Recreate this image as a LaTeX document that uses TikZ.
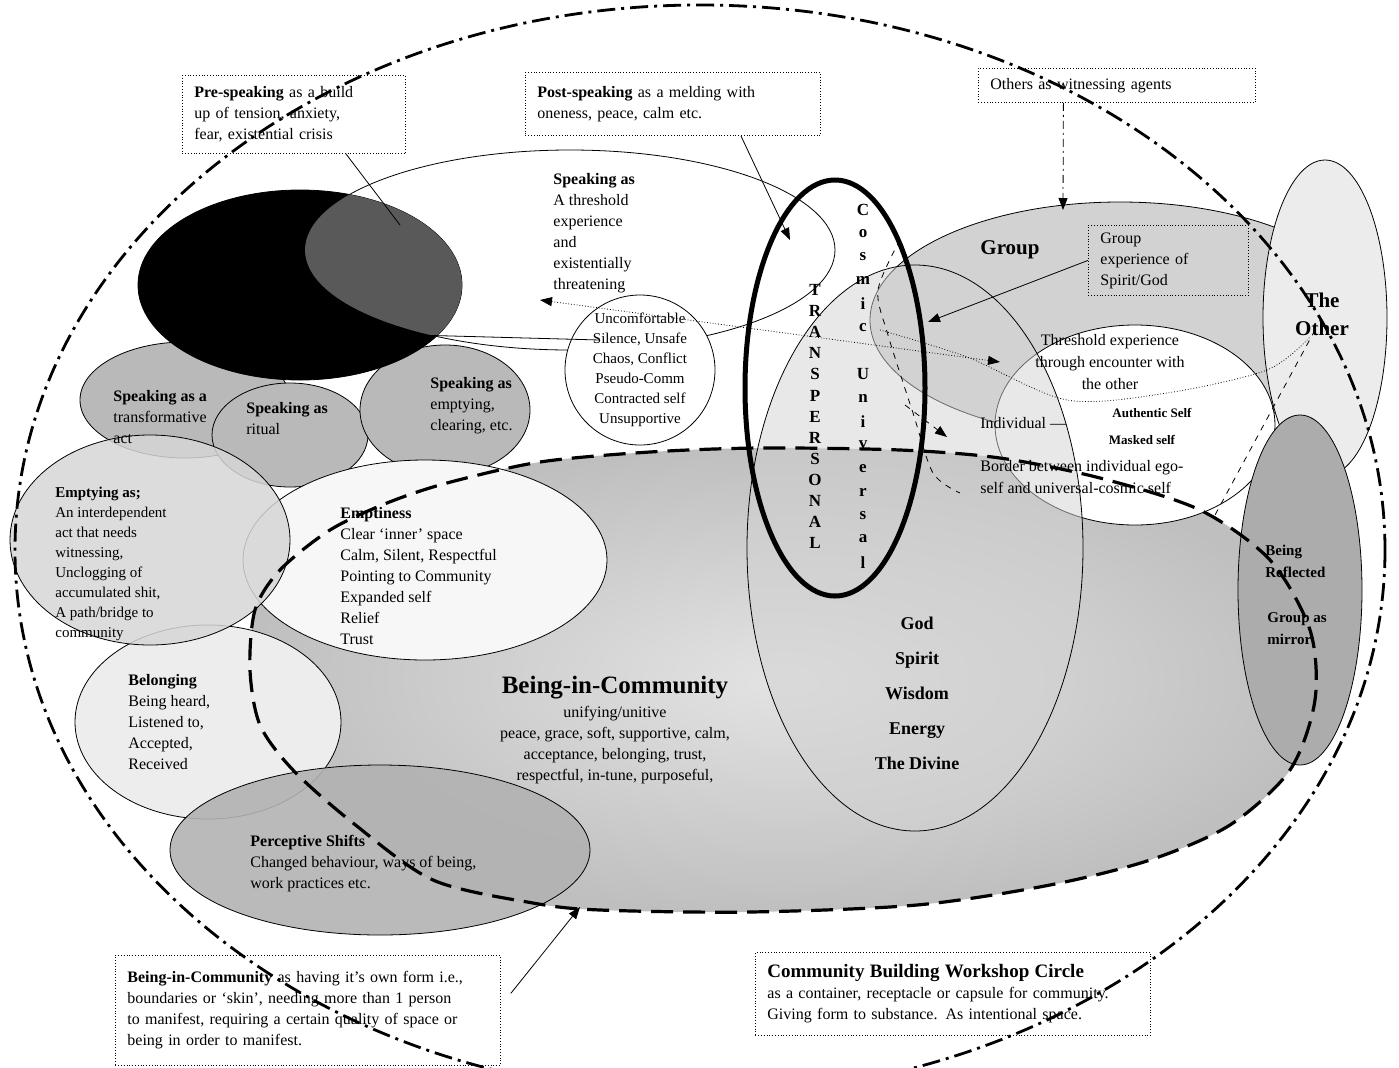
\documentclass[tikz,border=0pt]{standalone}
\usepackage{fontspec}
\setmainfont{Liberation Serif}
\usetikzlibrary{arrows.meta,positioning}

\tikzset{
  txt/.style={font=\fontsize{8}{10.5}\selectfont, align=left, inner sep=0pt, anchor=north west},
  ctxt/.style={font=\fontsize{8}{10.5}\selectfont, align=center, inner sep=0pt},
  letter/.style={font=\fontsize{8.5}{10}\selectfont\bfseries, inner sep=0pt},
  notebox/.style={draw, densely dotted, fill=white, anchor=north west, align=left,
    font=\fontsize{8}{10.5}\selectfont, inner xsep=6pt, inner ysep=3pt},
  dashdot/.style={line width=1.4pt, dash pattern=on 9pt off 3pt on 1.5pt off 3pt},
  skin/.style={line width=1.6pt, dash pattern=on 11pt off 5pt},
  pointer/.style={-{Triangle[length=6pt,width=4.5pt]}},
}

\begin{document}
\begin{tikzpicture}[x=0.5pt,y=-0.5pt]
\useasboundingbox (0,0) rectangle (1399,1067);

%%%%% community area %%%%%
\shade[inner color=gray!22, outer color=gray!50] plot[smooth cycle] coordinates {
  (447,483) (540,462) (650,452) (760,448) (900,450) (1000,458) (1100,478)
  (1200,510) (1270,560) (1310,630) (1315,700) (1290,770) (1230,825) (1150,860)
  (1050,885) (917,905) (750,912) (600,910) (533,903) (433,880) (353,823)
  (293,770) (260,725) (250,670) (255,610) (280,570) (330,530) (387,503)};

%%%%% right side %%%%%
\filldraw[fill=gray!35] (1120,320) ellipse [x radius=250, y radius=118];
\filldraw[fill=white] (1135,425) ellipse [x radius=140, y radius=100];
\filldraw[fill=gray!15] (1325,318) ellipse [x radius=62, y radius=158];
\filldraw[fill=gray!65] (1300,590) ellipse [x radius=62, y radius=175];
\filldraw[fill=gray!35, fill opacity=0.5] (915,548) ellipse [x radius=168, y radius=283];

%%%%% left side %%%%%
\filldraw[fill=white] (570,250) ellipse [x radius=265, y radius=100];
\filldraw[fill=gray!55] (185,400) ellipse [x radius=105, y radius=58];
\filldraw[fill=gray!55] (290,435) ellipse [x radius=78, y radius=52];
\filldraw[fill=gray!55] (445,410) ellipse [x radius=85, y radius=65];
\filldraw[fill=black] (300,285) ellipse [x radius=162, y radius=95];
\begin{scope}
  \clip (570,250) ellipse [x radius=265, y radius=100];
  \fill[gray!70!black] (300,285) ellipse [x radius=162, y radius=95];
\end{scope}
\node[circle, draw, fill=white, minimum size=75pt, inner sep=0pt] (unc) at (640,370) {};

\filldraw[fill=gray!6] (425,560) ellipse [x radius=182, y radius=100];
\filldraw[fill=gray!14] (208,722) ellipse [x radius=133, y radius=97];
\filldraw[fill=gray!32, fill opacity=0.85] (150,540) ellipse [x radius=140, y radius=105];
\filldraw[fill=gray!60, fill opacity=0.9] (380,850) ellipse [x radius=210, y radius=85];

%%%%% skin of the community %%%%%
\draw[skin] plot[smooth cycle] coordinates {
  (447,483) (540,462) (650,452) (760,448) (900,450) (1000,458) (1100,478)
  (1200,510) (1270,560) (1310,630) (1315,700) (1290,770) (1230,825) (1150,860)
  (1050,885) (917,905) (750,912) (600,910) (533,903) (433,880) (353,823)
  (293,770) (260,725) (250,670) (255,610) (280,570) (330,530) (387,503)};

\draw[line width=2.5pt] (835,388) ellipse [x radius=90, y radius=208];
\draw[densely dotted] plot[smooth] coordinates {(880,330) (967,357) (1067,400) (1167,393) (1267,370) (1310,337)};
\draw[dashed] plot[smooth] coordinates {(900,240) (878,290) (888,335) (913,413) (933,473) (960,493)};

%%%%% boxes %%%%%
\node[notebox, text width=99.5pt, minimum height=39pt] (pre) at (182,75)
  {\textbf{Pre-speaking} as a build\\up of tension, anxiety,\\fear, existential crisis};
\node[notebox, text width=135.5pt, minimum height=31.5pt] (post) at (525,72)
  {\textbf{Post-speaking} as a melding with\\oneness, peace, calm etc.};
\node[notebox, text width=126.5pt, minimum height=17pt] (others) at (978,68)
  {Others as witnessing agents};
\node[notebox, fill=none, text width=68pt, minimum height=35pt] (grpexp) at (1088,225)
  {Group\\experience of\\Spirit/God};
\node[notebox, text width=180.5pt, minimum height=55pt] (bicbox) at (115,955)
  {\textbf{Being-in-Community} as having it's own form i.e.,\\boundaries or `skin', needing more than 1 person\\to manifest, requiring a certain quality of space or\\being in order to manifest.};
\node[notebox, text width=185.5pt, minimum height=41.5pt] (cbw) at (755,952)
  {{\fontsize{9.5}{11}\selectfont\bfseries Community Building Workshop Circle}\\as a container, receptacle or capsule for community.\\Giving form to substance. As intentional space.};

%%%%% outer circle %%%%%
\draw[dashdot] (700,550) ellipse [x radius=685, y radius=545];

%%%%% texts %%%%%
\node[txt] (thr) at (553,173) {\textbf{Speaking as}\\A threshold\\experience\\and\\existentially\\threatening};
\node[ctxt, font=\fontsize{7.5}{10}\selectfont] at (unc) {Uncomfortable\\Silence, Unsafe\\Chaos, Conflict\\Pseudo-Comm\\Contracted self\\Unsupportive};
\node[txt] (trf) at (113,390) {\textbf{Speaking as a}\\transformative\\act};
\node[txt] (rit) at (246,402) {\textbf{Speaking as}\\ritual};
\node[txt] (clr) at (430,377) {\textbf{Speaking as}\\emptying,\\clearing, etc.};
\node[txt, font=\fontsize{7.5}{10}\selectfont] (emas) at (55,487)
  {\textbf{Emptying as;}\\An interdependent\\act that needs\\witnessing,\\Unclogging of\\accumulated shit,\\A path/bridge to\\community};
\node[txt] (empt) at (340,507) {\textbf{Emptiness}\\Clear `inner' space\\Calm, Silent, Respectful\\Pointing to Community\\Expanded self\\Relief\\Trust};
\node[txt] (belg) at (128,674) {\textbf{Belonging}\\Being heard,\\Listened to,\\Accepted,\\Received};
\node[txt] (perc) at (250,835) {\textbf{Perceptive Shifts}\\Changed behaviour, ways of being,\\work practices etc.};
\node[font=\fontsize{12.5}{14}\selectfont\bfseries, inner sep=0pt] (bic) at (615,688) {Being-in-Community};
\node[ctxt, below=3pt of bic] (bicsub) {unifying/unitive\\peace, grace, soft, supportive, calm,\\acceptance, belonging, trust,\\respectful, in-tune, purposeful,};
\node[ctxt, font=\fontsize{9}{17.5}\selectfont\bfseries] (god) at (917,693) {God\\Spirit\\Wisdom\\Energy\\The Divine};

\foreach \c [count=\i from 0] in {T,R,A,N,S,P,E,R,S,O,N,A,L}
  \node[letter] (tp\i) at (815,{290+21.1*\i}) {\c};
\foreach \c/\k in {C/0,o/1,s/2,m/3,i/4,c/5,U/7,n/8,i/9,v/10,e/11,r/12,s/13,a/14,l/15}
  \node[letter] (cu\k) at (863,{210+23.5*\k}) {\c};

\node[font=\fontsize{10.5}{12}\selectfont\bfseries, inner sep=0pt] (grp) at (1010,250) {Group};
\node[font=\fontsize{10.5}{14}\selectfont\bfseries, align=center, inner sep=0pt] (oth) at (1322,314) {The\\Other};
\node[ctxt, font=\fontsize{8}{11}\selectfont] (enc) at (1110,362) {Threshold experience\\through encounter with\\the other};
\node[txt, anchor=west] (ind) at (980,423) {Individual ---};
\node[font=\fontsize{6.5}{8}\selectfont\bfseries, inner sep=0pt] (auth) at (1152,413) {Authentic Self};
\node[font=\fontsize{6.5}{8}\selectfont\bfseries, inner sep=0pt] (mask) at (1142,440) {Masked self};
\node[txt, font=\fontsize{8}{11}\selectfont] (bord) at (980,460) {Border between individual ego-\\self and universal-cosmic self};
\node[txt, font=\fontsize{7.5}{11}\selectfont\bfseries] (refl) at (1265,545) {Being\\Reflected};
\node[txt, font=\fontsize{7.5}{11}\selectfont\bfseries] (mirr) at (1267,612) {Group as\\mirror};

%%%%% connectors %%%%%
\coordinate (blk) at (400,225);
\coordinate (tpt) at (790,240);
\coordinate (grptop) at (1063,210);
\coordinate (indiv) at (928,322);
\coordinate (skinpt) at (580,907);
\coordinate (lft) at (540,300);
\coordinate (rgt) at (1000,362);
\coordinate (blkr) at (340,333);
\coordinate (sil) at (600,340);
\coordinate (inda) at (905,405);
\coordinate (indb) at (947,437);
\coordinate (otha) at (1315,330);
\coordinate (othb) at (1215,515);

\draw ([xshift=26pt]pre.south) -- (blk);
\draw[pointer] ([xshift=34pt]post.south) -- (tpt);
\draw[pointer, dash pattern=on 4pt off 2pt on 1pt off 2pt] ([xshift=-26.75pt]others.south) -- (grptop);
\draw[pointer] (grpexp.west) -- (indiv);
\draw[pointer] ([xshift=5pt,yshift=8.5pt]bicbox.east) -- (skinpt);
\draw[densely dotted, {Triangle[length=6pt,width=4.5pt]}-{Triangle[length=6pt,width=4.5pt]}] (lft) -- (rgt);
\draw (blkr) -- (sil);
\draw[pointer, dashed] (inda) -- (indb);
\draw[dashed] (otha) -- (othb);
\end{tikzpicture}
\end{document}
